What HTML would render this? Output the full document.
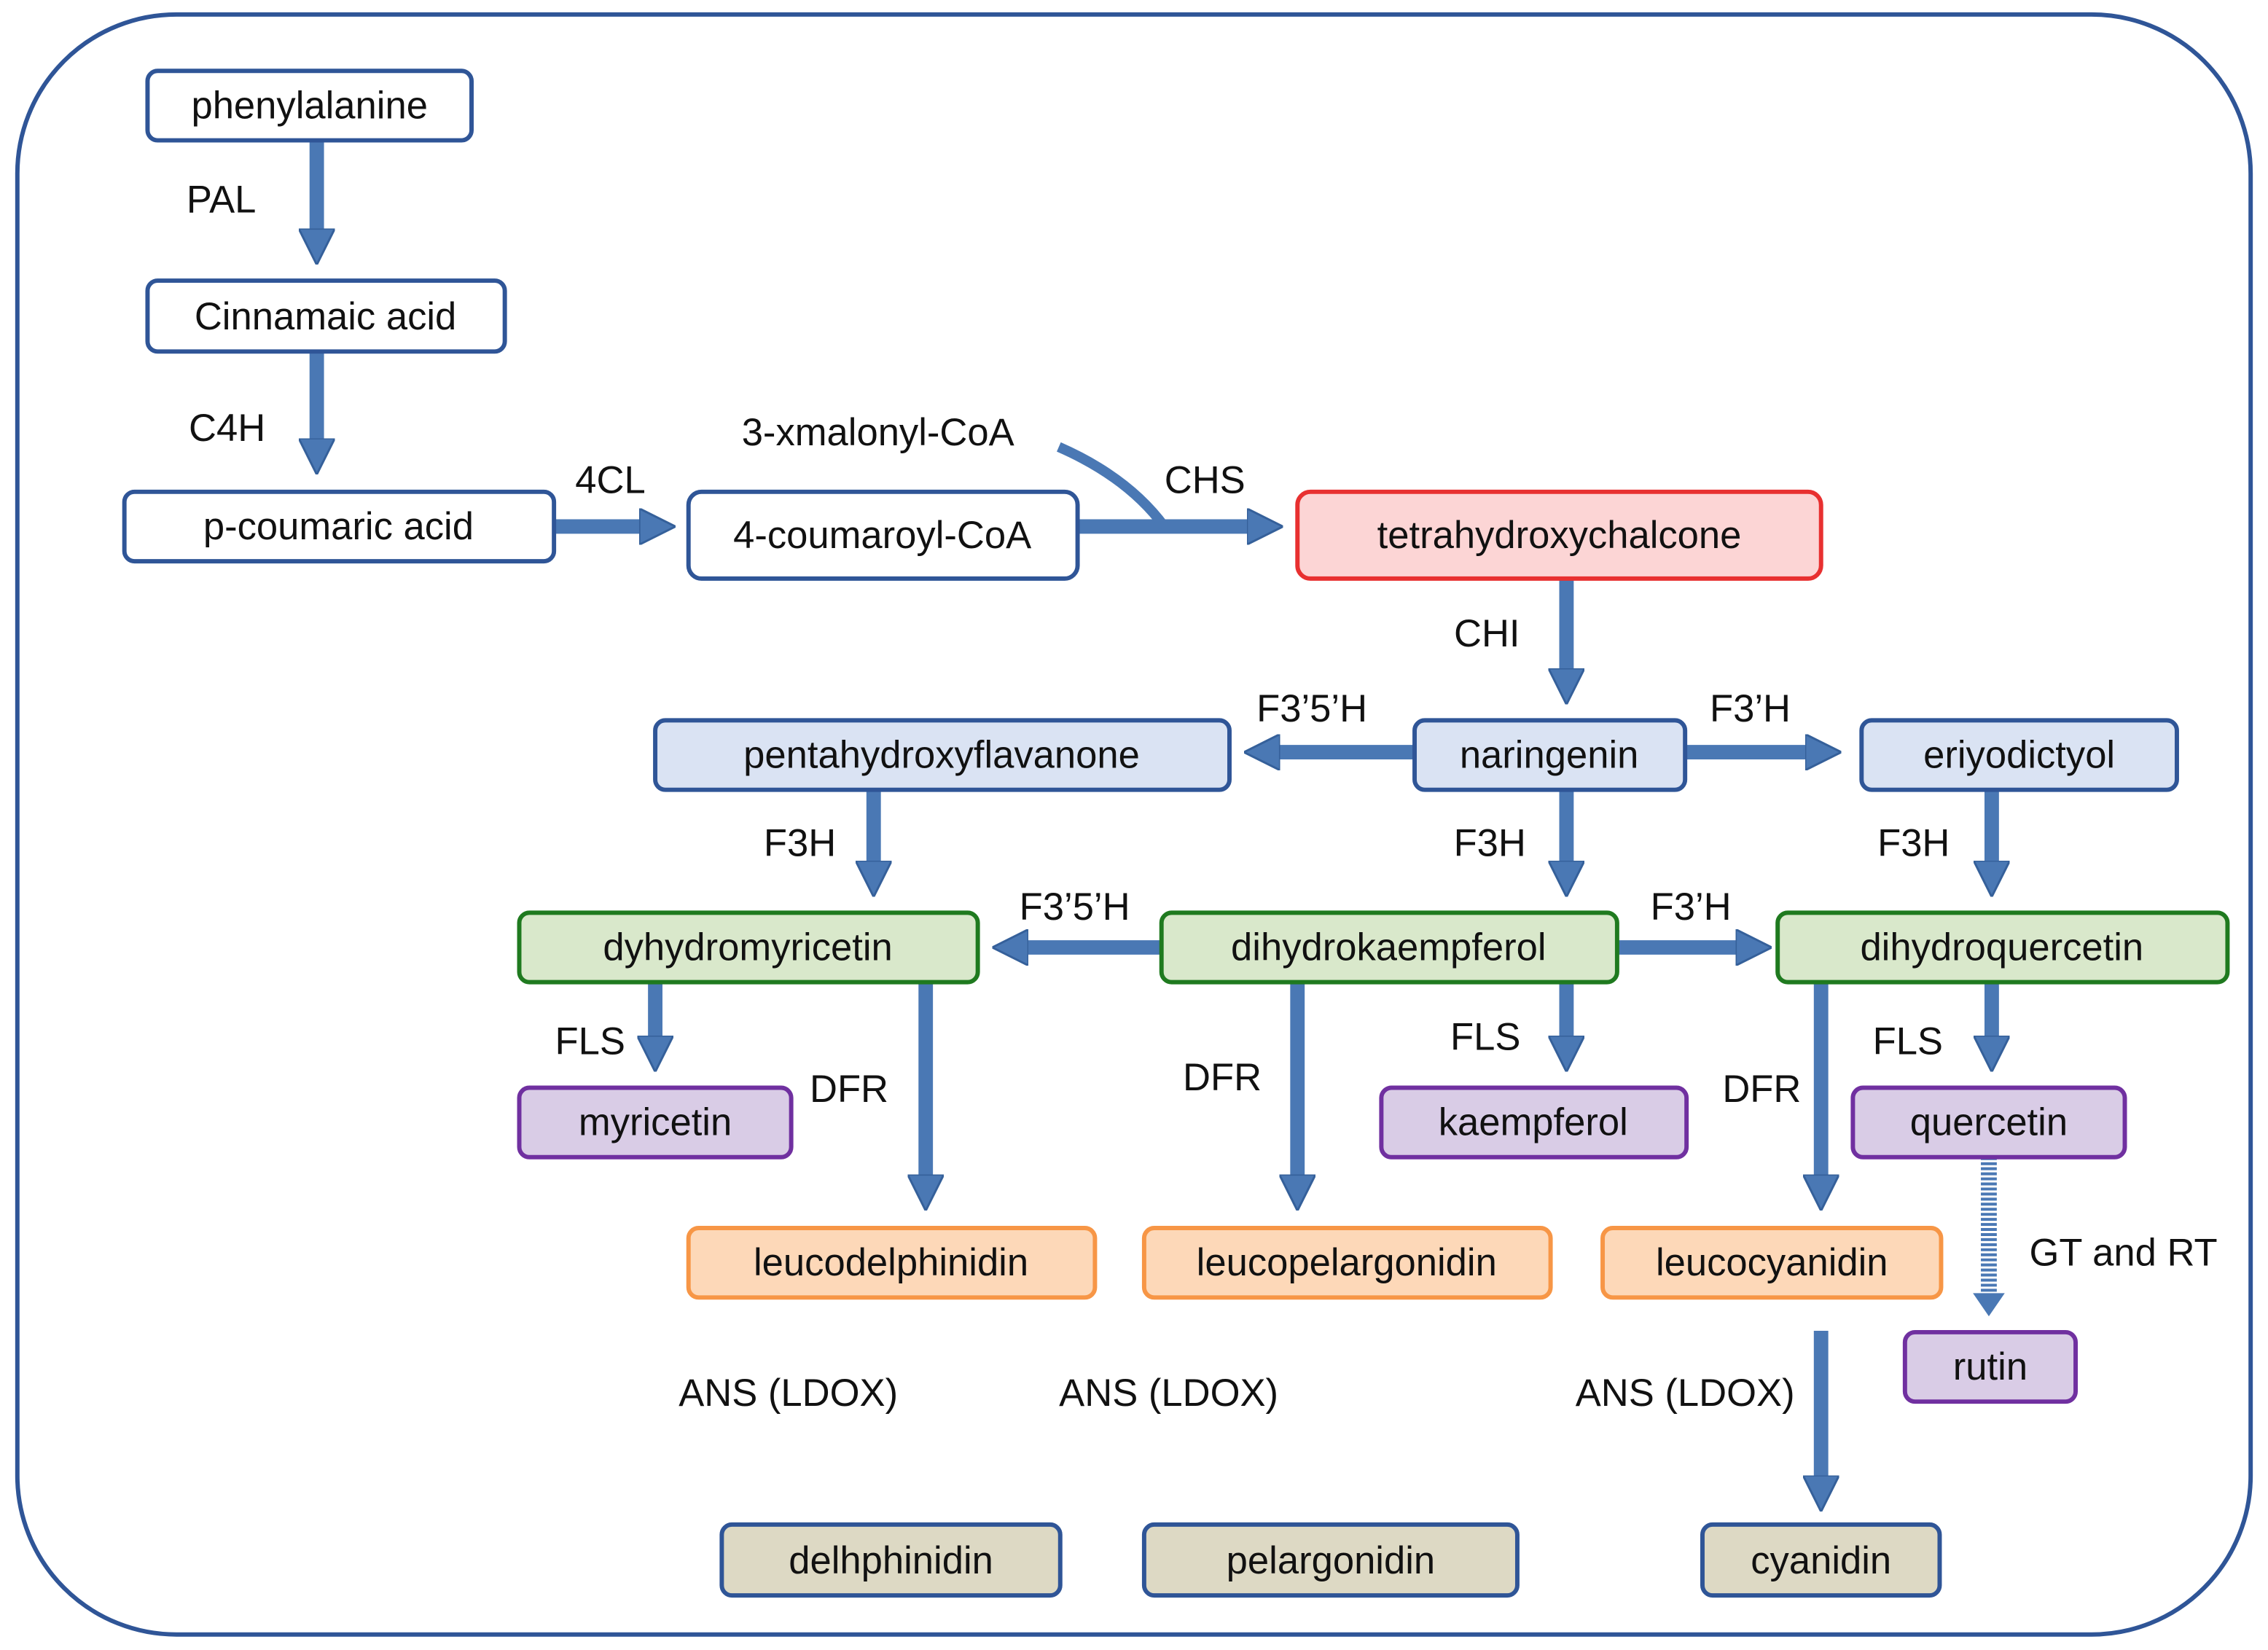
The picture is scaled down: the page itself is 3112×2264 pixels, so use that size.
<!DOCTYPE html>
<html><head><meta charset="utf-8"><style>html,body{margin:0;padding:0;background:#fff}svg{display:block}</style></head><body>
<svg width="3112" height="2264" viewBox="0 0 1568 1140.7" xmlns="http://www.w3.org/2000/svg" font-family="Liberation Sans, sans-serif">
<defs>
<marker id="ah" viewBox="0 0 10 10" refX="2" refY="5" markerWidth="2.5" markerHeight="2.5" markerUnits="strokeWidth" orient="auto">
<path d="M0,0 L10,5 L0,10 z" fill="#4a78b4" stroke="#35609a" stroke-width="0.6"/>
</marker>
</defs>
<rect x="12" y="10" width="1544" height="1120" rx="110" fill="#fff" stroke="#2f5597" stroke-width="3"/>
<g stroke="#4a78b4" stroke-width="10" fill="none" marker-end="url(#ah)">
<line x1="219" y1="97" x2="219" y2="163"/>
<line x1="219" y1="243" x2="219" y2="308"/>
<line x1="383" y1="364" x2="447" y2="364"/>
<line x1="745" y1="364" x2="867" y2="364"/>
<line x1="1083" y1="400" x2="1083" y2="467"/>
<line x1="978" y1="520" x2="880" y2="520"/>
<line x1="1165" y1="520" x2="1253" y2="520"/>
<line x1="604" y1="546" x2="604" y2="600"/>
<line x1="1083" y1="546" x2="1083" y2="600"/>
<line x1="1377" y1="546" x2="1377" y2="600"/>
<line x1="803" y1="655" x2="706" y2="655"/>
<line x1="1118" y1="655" x2="1205" y2="655"/>
<line x1="453" y1="679" x2="453" y2="721"/>
<line x1="640" y1="679" x2="640" y2="817"/>
<line x1="897" y1="679" x2="897" y2="817"/>
<line x1="1083" y1="679" x2="1083" y2="721"/>
<line x1="1259" y1="679" x2="1259" y2="817"/>
<line x1="1377" y1="679" x2="1377" y2="721"/>
<line x1="1259" y1="920" x2="1259" y2="1025"/>
</g>
<path d="M732,309 Q780,330 805,364" stroke="#4a78b4" stroke-width="7" fill="none"/>
<line x1="1375" y1="800" x2="1375" y2="898" stroke="#4a78b4" stroke-width="11" stroke-dasharray="2 1.5"/>
<path d="M1364,894 L1386,894 L1375,910 z" fill="#4a78b4"/>
<g stroke-width="3">
<rect x="102" y="49" width="224" height="48" rx="7" fill="#fff" stroke="#2f5597"/>
<rect x="102" y="194" width="247" height="49" rx="7" fill="#fff" stroke="#2f5597"/>
<rect x="86" y="340" width="297" height="48" rx="7" fill="#fff" stroke="#2f5597"/>
<rect x="476" y="340" width="269" height="60" rx="9" fill="#fff" stroke="#2f5597"/>
<rect x="897" y="340" width="362" height="60" rx="9" fill="#fcd5d5" stroke="#e83030"/>
<rect x="453" y="498" width="397" height="48" rx="7" fill="#dae3f3" stroke="#2f5597"/>
<rect x="978" y="498" width="187" height="48" rx="7" fill="#dae3f3" stroke="#2f5597"/>
<rect x="1287" y="498" width="218" height="48" rx="7" fill="#dae3f3" stroke="#2f5597"/>
<rect x="359" y="631" width="317" height="48" rx="7" fill="#d9e8cb" stroke="#1f7a1f"/>
<rect x="803" y="631" width="315" height="48" rx="7" fill="#d9e8cb" stroke="#1f7a1f"/>
<rect x="1229" y="631" width="311" height="48" rx="7" fill="#d9e8cb" stroke="#1f7a1f"/>
<rect x="359" y="752" width="188" height="48" rx="7" fill="#d9cce6" stroke="#7030a0"/>
<rect x="955" y="752" width="211" height="48" rx="7" fill="#d9cce6" stroke="#7030a0"/>
<rect x="1281" y="752" width="188" height="48" rx="7" fill="#d9cce6" stroke="#7030a0"/>
<rect x="1317" y="921" width="118" height="48" rx="7" fill="#d9cce6" stroke="#7030a0"/>
<rect x="476" y="849" width="281" height="48" rx="7" fill="#fdd8b8" stroke="#f79646"/>
<rect x="791" y="849" width="281" height="48" rx="7" fill="#fdd8b8" stroke="#f79646"/>
<rect x="1108" y="849" width="234" height="48" rx="7" fill="#fdd8b8" stroke="#f79646"/>
<rect x="499" y="1054" width="234" height="49" rx="7" fill="#ddd9c4" stroke="#2f5597"/>
<rect x="791" y="1054" width="258" height="49" rx="7" fill="#ddd9c4" stroke="#2f5597"/>
<rect x="1177" y="1054" width="164" height="49" rx="7" fill="#ddd9c4" stroke="#2f5597"/>
</g>
<g font-size="26.5" fill="#111" text-anchor="middle" dominant-baseline="central">
<text x="214" y="73">phenylalanine</text>
<text x="225" y="219">Cinnamaic acid</text>
<text x="234" y="364">p-coumaric acid</text>
<text x="610" y="370">4-coumaroyl-CoA</text>
<text x="1078" y="370">tetrahydroxychalcone</text>
<text x="651" y="522">pentahydroxyflavanone</text>
<text x="1071" y="522">naringenin</text>
<text x="1396" y="522">eriyodictyol</text>
<text x="517" y="655">dyhydromyricetin</text>
<text x="960" y="655">dihydrokaempferol</text>
<text x="1384" y="655">dihydroquercetin</text>
<text x="453" y="776">myricetin</text>
<text x="1060" y="776">kaempferol</text>
<text x="1375" y="776">quercetin</text>
<text x="1376" y="945">rutin</text>
<text x="616" y="873">leucodelphinidin</text>
<text x="931" y="873">leucopelargonidin</text>
<text x="1225" y="873">leucocyanidin</text>
<text x="616" y="1079">delhphinidin</text>
<text x="920" y="1079">pelargonidin</text>
<text x="1259" y="1079">cyanidin</text>
<text x="153" y="138">PAL</text>
<text x="157" y="296">C4H</text>
<text x="422" y="332">4CL</text>
<text x="607" y="299">3-xmalonyl-CoA</text>
<text x="833" y="332">CHS</text>
<text x="1028" y="438">CHI</text>
<text x="907" y="490">F3’5’H</text>
<text x="1210" y="490">F3’H</text>
<text x="553" y="583">F3H</text>
<text x="1030" y="583">F3H</text>
<text x="1323" y="583">F3H</text>
<text x="743" y="627">F3’5’H</text>
<text x="1169" y="627">F3’H</text>
<text x="408" y="720">FLS</text>
<text x="587" y="753">DFR</text>
<text x="845" y="745">DFR</text>
<text x="1027" y="717">FLS</text>
<text x="1218" y="753">DFR</text>
<text x="1319" y="720">FLS</text>
<text x="1468" y="866">GT and RT</text>
<text x="545" y="963">ANS (LDOX)</text>
<text x="808" y="963">ANS (LDOX)</text>
<text x="1165" y="963">ANS (LDOX)</text>
</g>
</svg>
</body></html>
